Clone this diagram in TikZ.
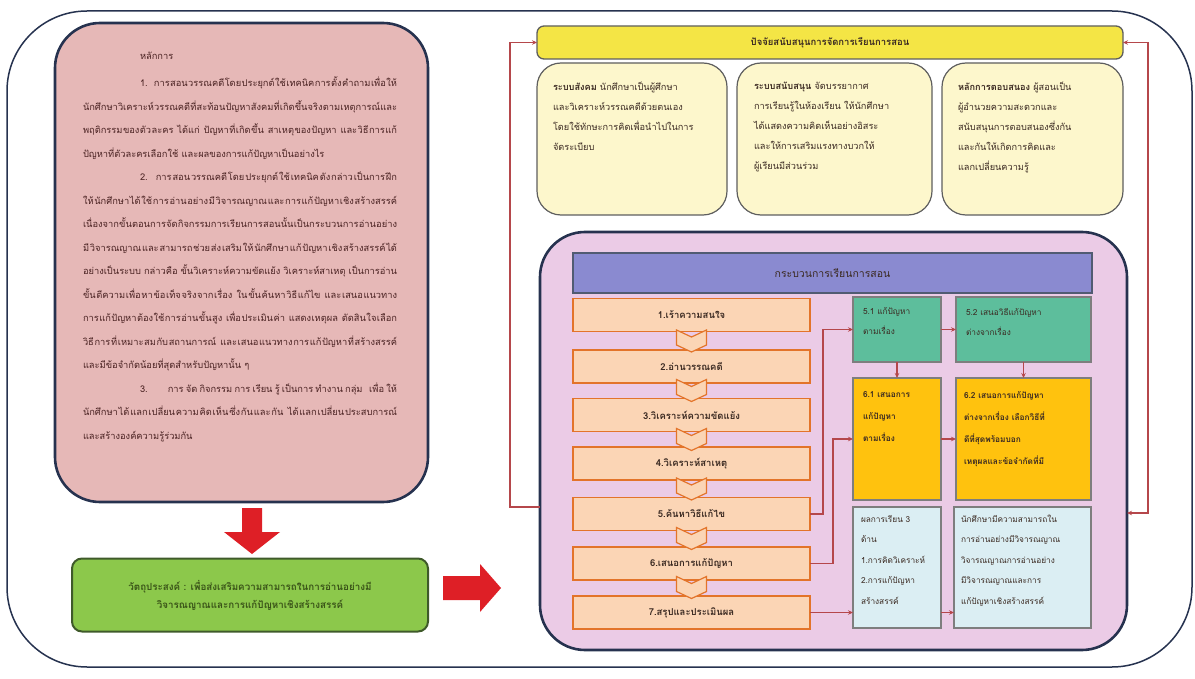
\documentclass[tikz,border=0pt]{standalone}
\usepackage{fontspec}
\setmainfont[Script=Thai]{Loma}
\XeTeXlinebreaklocale "th"
\XeTeXlinebreakskip=0pt plus 1pt
\usetikzlibrary{arrows.meta}
\definecolor{navy}{HTML}{26324F}
\definecolor{pinkfill}{HTML}{E6B8B7}
\definecolor{greenfill}{HTML}{8CC84B}
\definecolor{greenline}{HTML}{3F5A2A}
\definecolor{greentext}{HTML}{3A5418}
\definecolor{yellowfill}{HTML}{F4E545}
\definecolor{creamfill}{HTML}{FDF7CC}
\definecolor{greyline}{HTML}{5E5E5E}
\definecolor{purplefill}{HTML}{EBCBE6}
\definecolor{headfill}{HTML}{8A8AD0}
\definecolor{peach}{HTML}{FBD5B5}
\definecolor{orangeline}{HTML}{E3742A}
\definecolor{tealfill}{HTML}{5DBE9C}
\definecolor{goldfill}{HTML}{FFC20E}
\definecolor{bluefill}{HTML}{DBEEF3}
\definecolor{linkred}{HTML}{B5474B}
\definecolor{bigred}{HTML}{DE1F26}
\definecolor{inktext}{HTML}{3B2A22}
\definecolor{maroontext}{HTML}{4A2222}
\tikzset{
  frame/.style={draw=navy, line width=2.6pt, rounded corners=45pt},
  plain/.style={inner sep=0pt, outer sep=0pt},
  stepbox/.style={plain, draw=orangeline, line width=1.7pt, fill=peach, minimum width=237pt, minimum height=33pt, font=\fontsize{9.5}{12}\selectfont\bfseries, text=inktext},
  cream/.style={plain, draw=greyline, line width=1.2pt, fill=creamfill, rounded corners=24pt, minimum height=152pt},
  small/.style={plain, draw=greyline!80, line width=1.2pt, minimum width=88pt},
  bodytext/.style={plain, anchor=north west, align=left, text=inktext, font=\fontsize{9.2}{20}\selectfont},
  boxtext/.style={plain, anchor=north west, align=left, text=inktext},
  link/.style={draw=linkred, line width=1.3pt, -{Stealth[length=5pt,width=4.5pt]}},
  chev/.style={draw=orangeline, line width=1.2pt, fill=peach},
}
\begin{document}
\begin{tikzpicture}[x=1pt,y=-1pt]
\useasboundingbox (0,0) rectangle (1195,679);
% outer frame
\draw[navy, line width=1.5pt, rounded corners=80pt] (7,11) rectangle (1192,667);

% left principle box
\node[frame, plain, fill=pinkfill, minimum width=373pt, minimum height=479pt] (principle) at (241.5,262.5) {};
\node[plain, anchor=north west, text width=314pt, align=justify, text=maroontext, font=\fontsize{9.3}{23.5}\selectfont] (principletext) at (83,52) {%
\setlength{\parindent}{0pt}\hspace*{57pt}หลักการ\par
\vspace{4pt}
\hspace*{57pt}1. การสอนวรรณคดีโดยประยุกต์ใช้เทคนิคการตั้งคำถามเพื่อให้นักศึกษาวิเคราะห์วรรณคดีที่สะท้อนปัญหาสังคมที่เกิดขึ้นจริงตามเหตุการณ์และพฤติกรรมของตัวละคร ได้แก่ ปัญหาที่เกิดขึ้น สาเหตุของปัญหา และวิธีการแก้ปัญหาที่ตัวละครเลือกใช้ และผลของการแก้ปัญหาเป็นอย่างไร\par
\hspace*{57pt}2. การสอนวรรณคดีโดยประยุกต์ใช้เทคนิคดังกล่าวเป็นการฝึกให้นักศึกษาได้ใช้การอ่านอย่างมีวิจารณญาณและการแก้ปัญหาเชิงสร้างสรรค์ เนื่องจากขั้นตอนการจัดกิจกรรมการเรียนการสอนนั้นเป็นกระบวนการอ่านอย่างมีวิจารณญาณและสามารถช่วยส่งเสริมให้นักศึกษาแก้ปัญหาเชิงสร้างสรรค์ได้อย่างเป็นระบบ กล่าวคือ ขั้นวิเคราะห์ความขัดแย้ง วิเคราะห์สาเหตุ เป็นการอ่านขั้นตีความเพื่อหาข้อเท็จจริงจากเรื่อง ในขั้นค้นหาวิธีแก้ไข และเสนอแนวทางการแก้ปัญหาต้องใช้การอ่านขั้นสูง เพื่อประเมินค่า แสดงเหตุผล ตัดสินใจเลือกวิธีการที่เหมาะสมกับสถานการณ์ และเสนอแนวทางการแก้ปัญหาที่สร้างสรรค์และมีข้อจำกัดน้อยที่สุดสำหรับปัญหานั้น~ๆ\par
\hspace*{57pt}3.\hspace{20pt}การจัดกิจกรรมการเรียนรู้เป็นการทำงานกลุ่ม เพื่อให้นักศึกษาได้แลกเปลี่ยนความคิดเห็นซึ่งกันและกัน ได้แลกเปลี่ยนประสบการณ์ และสร้างองค์ความรู้ร่วมกัน\par};

% big red arrows
\fill[bigred] (242,508) -- (262,508) -- (262,532) -- (280,532) -- (252,554) -- (224,532) -- (242,532) -- cycle;
\fill[bigred] (443,576) -- (480,576) -- (480,564) -- (501,588) -- (480,612) -- (480,600) -- (443,600) -- cycle;

% objective box
\node[plain, draw=greenline, line width=2pt, fill=greenfill, rounded corners=10pt, minimum width=356pt, minimum height=73pt, align=center, text=greentext, font=\fontsize{9.8}{18}\selectfont\bfseries] (objective) at (250,595)
  {วัตถุประสงค์ : เพื่อส่งเสริมความสามารถในการอ่านอย่างมี\\ วิจารณญาณและการแก้ปัญหาเชิงสร้างสรรค์};

% support factors
\node[plain, draw=greyline, line width=1.3pt, fill=yellowfill, rounded corners=7pt, minimum width=586pt, minimum height=33pt, text=inktext, font=\fontsize{9.5}{12}\selectfont\bfseries] (support) at (830,42.5) {ปัจจัยสนับสนุนการจัดการเรียนการสอน};
\node[cream, minimum width=190pt] (social) at (632,139) {};
\node[cream, minimum width=195pt] (aid) at (834.5,139) {};
\node[cream, minimum width=181pt] (react) at (1032.5,139) {};
\node[bodytext] (socialtext) at (553,82) {\textbf{ระบบสังคม} นักศึกษาเป็นผู้ศึกษา\\ และวิเคราะห์วรรณคดีด้วยตนเอง\\ โดยใช้ทักษะการคิดเพื่อนำไปในการ\\ จัดระเบียบ};
\node[bodytext] (aidtext) at (754,82) {\textbf{ระบบสนับสนุน} จัดบรรยากาศ\\ การเรียนรู้ในห้องเรียน ให้นักศึกษา\\ ได้แสดงความคิดเห็นอย่างอิสระ\\ และให้การเสริมแรงทางบวกให้\\ ผู้เรียนมีส่วนร่วม};
\node[bodytext] (reacttext) at (958,82) {\textbf{หลักการตอบสนอง} ผู้สอนเป็น\\ ผู้อำนวยความสะดวกและ\\ สนับสนุนการตอบสนองซึ่งกัน\\ และกันให้เกิดการคิดและ\\ แลกเปลี่ยนความรู้};

% teaching process
\node[frame, plain, fill=purplefill, minimum width=587pt, minimum height=418pt] (process) at (833.5,441) {};
\node[plain, draw=navy!80, line width=1.3pt, fill=headfill, minimum width=519pt, minimum height=40pt, text=inktext, font=\fontsize{10.5}{12}\selectfont] (processhead) at (832.5,273) {กระบวนการเรียนการสอน};

\node[stepbox] (s1) at (691.5,315) {1.เร้าความสนใจ};
\node[stepbox] (s2) at (691.5,366.5) {2.อ่านวรรณคดี};
\node[stepbox] (s3) at (691.5,415) {3.วิเคราะห์ความขัดแย้ง};
\node[stepbox] (s4) at (691.5,463.5) {4.วิเคราะห์สาเหตุ};
\node[stepbox] (s5) at (691.5,514) {5.ค้นหาวิธีแก้ไข};
\node[stepbox] (s6) at (691.5,563.5) {6.เสนอการแก้ปัญหา};
\node[stepbox] (s7) at (691.5,612.5) {7.สรุปและประเมินผล};
\foreach \cy in {341,390.5,439.5,489,538.5,587.5}{
  \draw[chev] (691.5,\cy) ++(-15,-11) -- ++(15,7) -- ++(15,-7) -- ++(0,15) -- ++(-15,7) -- ++(-15,-7) -- cycle;
}

\node[small, fill=tealfill, minimum height=65pt] (b51) at (897,329.5) {};
\node[small, fill=tealfill, minimum width=135pt, minimum height=65pt] (b52) at (1023.5,329.5) {};
\node[small, fill=goldfill, minimum height=122pt] (b61) at (897,439) {};
\node[small, fill=goldfill, minimum width=135pt, minimum height=122pt] (b62) at (1023.5,439) {};
\node[small, fill=bluefill, minimum height=121pt] (r1) at (897,567.5) {};
\node[small, fill=bluefill, minimum width=137pt, minimum height=121pt] (r2) at (1022.5,567.5) {};

\node[boxtext, font=\fontsize{8.3}{20}\selectfont] (t51) at (863,308) {5.1 แก้ปัญหา\\ ตามเรื่อง};
\node[boxtext, font=\fontsize{8.3}{20}\selectfont] (t52) at (966,308) {5.2 เสนอวิธีแก้ปัญหา\\ ต่างจากเรื่อง};
\node[boxtext, font=\fontsize{8.3}{22}\selectfont\bfseries] (t61) at (863,392) {6.1 เสนอการ\\ แก้ปัญหา\\ ตามเรื่อง};
\node[boxtext, font=\fontsize{8.3}{22}\selectfont\bfseries] (t62) at (964,392) {6.2 เสนอการแก้ปัญหา\\ ต่างจากเรื่อง เลือกวิธีที่\\ ดีที่สุดพร้อมบอก\\ เหตุผลและข้อจำกัดที่มี};
\node[boxtext, font=\fontsize{8.3}{20.5}\selectfont] (tr1) at (861,515) {ผลการเรียน 3\\ ด้าน\\ 1.การคิดวิเคราะห์\\ 2.การแก้ปัญหา\\ สร้างสรรค์};
\node[boxtext, font=\fontsize{8.3}{20.5}\selectfont] (tr2) at (961,515) {นักศึกษามีความสามารถใน\\ การอ่านอย่างมีวิจารณญาณ\\ วิจารณญาณการอ่านอย่าง\\ มีวิจารณญาณและการ\\ แก้ปัญหาเชิงสร้างสรรค์};

% connectors
\draw[link] (s5.east) -- ++(13,0) |- (b51.west);
\draw[link] (s6.east) -- ++(23,0) |- (b61.west);
\draw[link] (s7.east) -- (s7.east -| r1.west);
\draw[link] (b51.east) -- (b52.west);
\draw[link] (b61.east) -- (b62.west);
\coordinate (rr) at (r1.east |- s7.east);
\draw[link] (rr) -- (rr -| r2.west);
\draw[link] (b51.south) -- (b61.north);
\draw[link] (b52.south) -- (b62.north);
\coordinate (lefturn) at (510,507);
\draw[link] (lefturn -| process.west) -- (lefturn) |- (support.west);
\coordinate (rightturn) at (1148,513);
\draw[link, {Stealth[length=5pt,width=4.5pt]}-{Stealth[length=5pt,width=4.5pt]}] (support.east) -| (rightturn) -- (rightturn -| process.east);
\end{tikzpicture}
\end{document}
